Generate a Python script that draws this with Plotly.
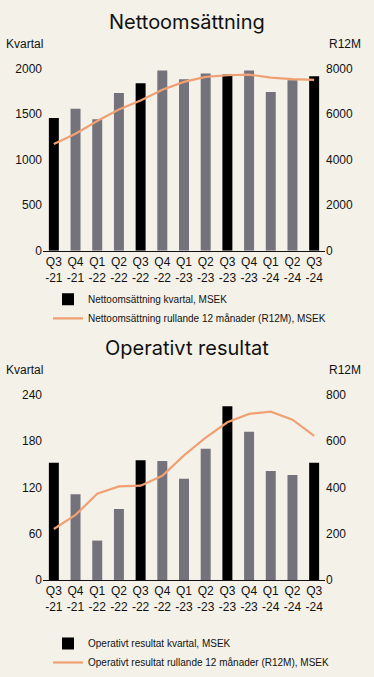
import plotly.graph_objects as go

quarters = ["Q3-21", "Q4-21", "Q1-22", "Q2-22", "Q3-22", "Q4-22", "Q1-23",
            "Q2-23", "Q3-23", "Q4-23", "Q1-24", "Q2-24", "Q3-24"]
tick_labels = ["Q3<br>-21", "Q4<br>-21", "Q1<br>-22", "Q2<br>-22", "Q3<br>-22", "Q4<br>-22", "Q1<br>-23",
               "Q2<br>-23", "Q3<br>-23", "Q4<br>-23", "Q1<br>-24", "Q2<br>-24", "Q3<br>-24"]

net_sales_q = [1455, 1557, 1443, 1729, 1836, 1978, 1882, 1943, 1932, 1978, 1740, 1871, 1914]
net_sales_r12 = [4680, 5130, 5690, 6200, 6590, 7060, 7410, 7630, 7700, 7730, 7600, 7530, 7500]

op_result_q = [152, 111, 51, 92, 155, 154, 131, 170, 225, 192, 141, 136, 152]
op_result_r12 = [220, 281, 372, 404, 407, 450, 538, 615, 681, 717, 727, 692, 622]

BG = "#f4f1e9"
BLACK = "#000000"
GRAY = "#74737b"
ORANGE = "#f0a072"
bar_colors = [BLACK if q.startswith("Q3") else GRAY for q in quarters]

W, H = 374, 677
def fy(px):
    return 1 - px / H

TICKFONT = dict(family="Liberation Sans, Arial, sans-serif", size=12, color="#111111")
LEGFONT = dict(family="Liberation Sans, Arial, sans-serif", size=10, color="#111111")
TITLEFONT = dict(family="Inter, sans-serif", size=20, color="#111111")

fig = go.Figure()

fig.add_trace(go.Bar(x=quarters, y=net_sales_q, marker=dict(color=bar_colors, line=dict(width=0)),
                     width=0.46, name="Nettoomsättning kvartal, MSEK",
                     xaxis="x", yaxis="y", legend="legend"))
fig.add_trace(go.Scatter(x=quarters, y=net_sales_r12, mode="lines",
                         line=dict(color=ORANGE, width=2.2),
                         name="Nettoomsättning rullande 12 månader (R12M), MSEK",
                         xaxis="x", yaxis="y2", legend="legend"))
fig.add_trace(go.Bar(x=quarters, y=op_result_q, marker=dict(color=bar_colors, line=dict(width=0)),
                     width=0.46, name="Operativt resultat kvartal, MSEK",
                     xaxis="x2", yaxis="y3", legend="legend2"))
fig.add_trace(go.Scatter(x=quarters, y=op_result_r12, mode="lines",
                         line=dict(color=ORANGE, width=2.2),
                         name="Operativt resultat rullande 12 månader (R12M), MSEK",
                         xaxis="x2", yaxis="y4", legend="legend2"))

xdom = [43 / W, 325 / W]
xcommon = dict(domain=xdom, type="category", tickmode="array", tickvals=quarters, ticktext=tick_labels,
               tickfont=TICKFONT, showgrid=False, showline=True, linecolor="#111111", linewidth=1,
               ticks="", zeroline=False, fixedrange=True)
ycommon = dict(showgrid=False, zeroline=False, showline=False, tickfont=TICKFONT, ticks="", fixedrange=True)

fig.update_layout(
    width=W, height=H, margin=dict(l=0, r=0, t=0, b=0),
    paper_bgcolor=BG, plot_bgcolor=BG,
    showlegend=True, bargap=0.5,
    xaxis=dict(**xcommon, anchor="y"),
    yaxis=dict(**ycommon, domain=[fy(250), fy(63)], range=[0, 2000], tickvals=[0, 500, 1000, 1500, 2000],
               anchor="x"),
    yaxis2=dict(**ycommon, overlaying="y", side="right", range=[0, 8000],
                tickvals=[0, 2000, 4000, 6000, 8000], anchor="x"),
    xaxis2=dict(**xcommon, anchor="y3"),
    yaxis3=dict(**ycommon, domain=[fy(587.7), fy(397.7)], range=[0, 240], tickvals=[0, 60, 120, 180, 240],
                anchor="x2"),
    yaxis4=dict(**ycommon, overlaying="y3", side="right", range=[0, 800],
                tickvals=[0, 200, 400, 600, 800], anchor="x2"),
    legend=dict(x=48 / W, y=fy(285), xanchor="left", yanchor="top", bgcolor="rgba(0,0,0,0)",
                font=LEGFONT, tracegroupgap=0, itemwidth=30),
    legend2=dict(x=48 / W, y=fy(638), xanchor="left", yanchor="top", bgcolor="rgba(0,0,0,0)",
                 font=LEGFONT, tracegroupgap=0, itemwidth=30),
    annotations=[
        dict(text="Nettoomsättning", x=0.5, y=fy(15), xref="paper", yref="paper", showarrow=False,
             font=TITLEFONT, xanchor="center", yanchor="middle"),
        dict(text="Kvartal", x=4 / W, y=fy(38), xref="paper", yref="paper", showarrow=False,
             font=TICKFONT, xanchor="left", yanchor="middle"),
        dict(text="R12M", x=363 / W, y=fy(38), xref="paper", yref="paper", showarrow=False,
             font=TICKFONT, xanchor="right", yanchor="middle"),
        dict(text="Operativt resultat", x=0.5, y=fy(350), xref="paper", yref="paper", showarrow=False,
             font=TITLEFONT, xanchor="center", yanchor="middle"),
        dict(text="Kvartal", x=4 / W, y=fy(372), xref="paper", yref="paper", showarrow=False,
             font=TICKFONT, xanchor="left", yanchor="middle"),
        dict(text="R12M", x=363 / W, y=fy(372), xref="paper", yref="paper", showarrow=False,
             font=TICKFONT, xanchor="right", yanchor="middle"),
    ],
)

fig.write_html("out.html", config=dict(displayModeBar=False),
               post_script="document.body.style.margin='0';document.body.style.padding='0';"
                           "document.body.style.overflow='hidden';document.body.style.background='" + BG + "';")
